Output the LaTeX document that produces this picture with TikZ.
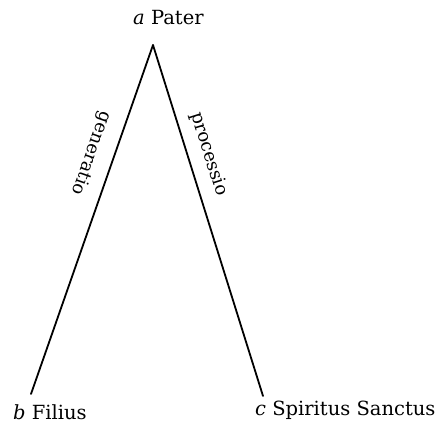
\documentclass[tikz,border=0pt]{standalone}
\usepackage{fontspec}
\setmainfont{DejaVu Serif}
\begin{document}
\begin{tikzpicture}[x=1pt,y=1pt,
  edge/.style={line width=1.8pt,line cap=round},
  lbl/.style={font=\fontsize{19.5}{23}\selectfont,inner sep=0pt},
  slbl/.style={font=\fontsize{18}{21}\selectfont,inner sep=0pt}]
\useasboundingbox (0,0) rectangle (439,-428);
\coordinate (A) at (153,-45);
\coordinate (B) at (31,-394);
\coordinate (C) at (263,-396);
\draw[edge] (A) -- (B);
\draw[edge] (A) -- (C);
\node[lbl,anchor=base west] (pa) at (133,-25) {\textit{a} Pater};
\node[lbl,anchor=base west] (fi) at (13,-419) {\textit{b} Filius};
\node[lbl,anchor=base west] (sp) at (255,-415) {\textit{c} Spiritus Sanctus};
\node[slbl,rotate=-109.3] (ge) at (91,-153) {generatio};
\node[slbl,rotate=-72.5] (pr) at (209,-154) {processio};
\end{tikzpicture}
\end{document}
